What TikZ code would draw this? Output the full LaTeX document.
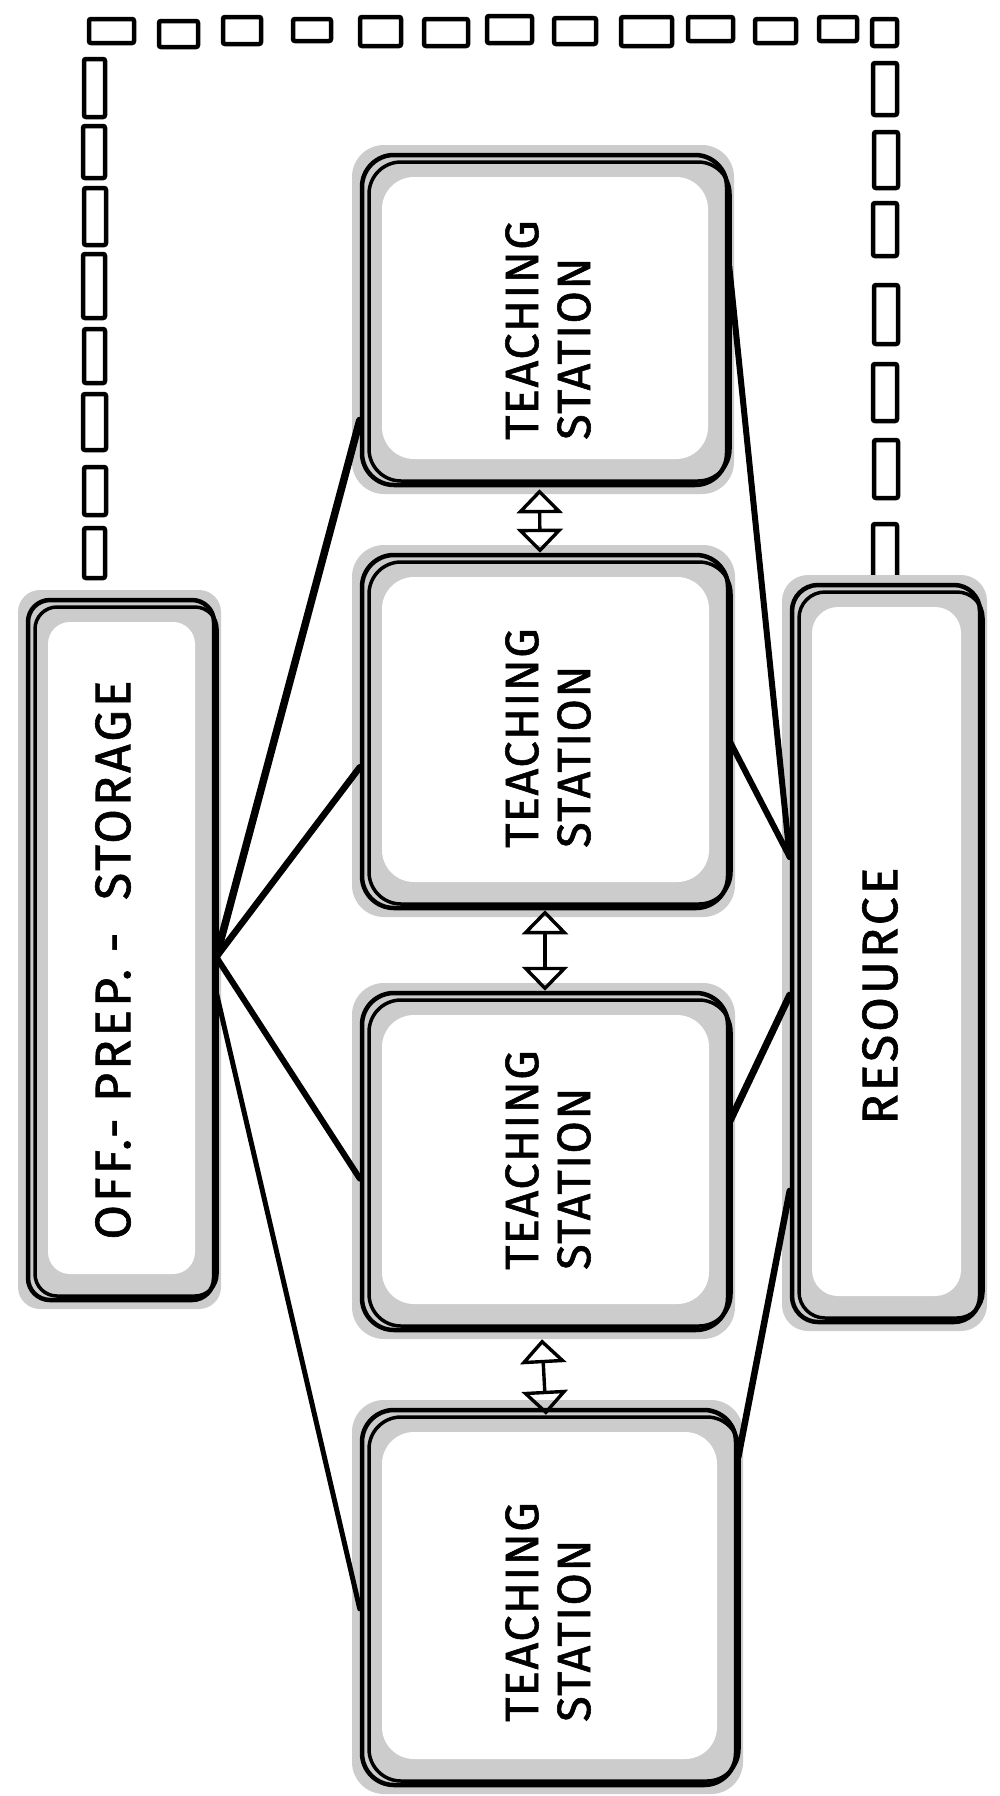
\documentclass[tikz,border=0pt]{standalone}
\usepackage{fontspec}
\setmainfont{Fira Sans}
\newfontfamily\handfont[LetterSpace=3,FakeBold=1.2]{Fira Sans}
\newfontfamily\handwide[LetterSpace=6,FakeBold=1.2]{Fira Sans}
\usetikzlibrary{arrows.meta,calc}
\newcommand{\skbox}[6]{%
  \fill[shade,rounded corners=#6pt] ({#2-10},{#3-10}) rectangle ({#4+7},{#5+9});
  \fill[white,rounded corners=#6pt] ({#2+20},{#3+22}) rectangle ({#4-19},{#5-26});
  \draw[boxlinetwo,rounded corners=#6pt] ({#2+7},{#3+7}) rectangle ({#4+3},{#5-4});
  \node[boxline,rounded corners=#6pt,minimum width={#4-#2},minimum height={#5-#3}] (#1) at ({(#2+#4)/2},{(#3+#5)/2}) {};
}
\begin{document}
\begin{tikzpicture}[x=1pt,y=-1pt,
  sq/.style={draw=black,line width=4.5pt,rounded corners=2pt,fill=white},
  boxline/.style={draw=black,line width=4.5pt,inner sep=0pt},
  boxlinetwo/.style={draw=black,line width=3.5pt},
  shade/.style={fill=black!20},
  link/.style={draw=black,line width=#1,line cap=round},
  link/.default=6pt,
  dbl/.style={line width=3.4pt,{Triangle[open,length=24pt,width=46pt]}-{Triangle[open,length=24pt,width=46pt]}},
  tslbl/.style={font=\handfont\fontsize{47}{52}\selectfont,align=left,rotate=90,inner sep=0pt},
  biglbl/.style={font=\handwide\fontsize{50}{52}\selectfont,rotate=90,inner sep=0pt},
]
\useasboundingbox[fill=white] (0,0) rectangle (999,1796);

% dashed enclosure made of small boxes
\foreach \a/\b/\c/\d in {89/19/134/43,159/21/198/47,223/17/261/44,293/19/331/41,360/17/401/46,424/19/468/46,487/16/532/43,554/18/596/44,621/17/672/46,688/17/733/41,755/19/796/43,819/17/857/41,872/19/897/46}
  \draw[sq] (\a,\b) rectangle (\c,\d);
\foreach \a/\b/\c/\d in {84/59/105/117,83/126/105/178,84/188/106/245,83/254/105/318,84/329/105/383,83/394/106/450,84/467/106/515,84/528/105/578}
  \draw[sq] (\a,\b) rectangle (\c,\d);
\foreach \a/\b/\c/\d in {873/63/897/115,874/132/898/188,873/203/897/256,874/285/898/344,873/364/897/421,874/440/898/498,873/524/897/578}
  \draw[sq] (\a,\b) rectangle (\c,\d);

% boxes
\skbox{st}{28}{600}{214}{1300}{22}
\skbox{res}{792}{585}{980}{1322}{26}
\skbox{ts1}{362}{155}{727}{485}{32}
\skbox{ts2}{362}{555}{728}{908}{32}
\skbox{ts3}{362}{993}{728}{1330}{32}
\skbox{ts4}{362}{1410}{736}{1785}{32}

% labels
\node[biglbl] (stl) at (113,960) {OFF.- PREP.\ -\ \ STORAGE};
\node[biglbl] (resl) at (880,996) {RESOURCE};
\node[tslbl] (t1) at (548,330) {TEACHING\\STATION};
\node[tslbl] (t2) at (548,738) {TEACHING\\STATION};
\node[tslbl] (t3) at (548,1160) {TEACHING\\STATION};
\node[tslbl] (t4) at (548,1612) {TEACHING\\STATION};

% fan from storage
\coordinate (apex) at ($(st.north east)!0.51!(st.south east)$);
\coordinate (apexlow) at ($(st.north east)!0.56!(st.south east)$);
\draw[link=7.5pt] (apex) -- ($(ts1.north west)!0.80!(ts1.south west)$);
\draw[link=6.5pt] (apex) -- ($(ts2.north west)!0.60!(ts2.south west)$);
\draw[link=6pt] (apex) -- ($(ts3.north west)!0.55!(ts3.south west)$);
\draw[link=5pt] (apexlow) -- ($(ts4.north west)!0.53!(ts4.south west)$);

% links to resource
\draw[link=6pt] ($(ts1.north east)!0.34!(ts1.south east)$) -- ($(res.north west)!0.37!(res.south west)$);
\draw[link=6pt] ($(ts2.north east)!0.53!(ts2.south east)$) -- ($(res.north west)!0.37!(res.south west)$);
\draw[link=7pt] ($(ts3.north east)!0.38!(ts3.south east)$) -- ($(res.north west)!0.556!(res.south west)$);
\draw[link=6.5pt] ($(ts4.north east)!0.13!(ts4.south east)$) -- ($(res.north west)!0.82!(res.south west)$);

% double arrows between stations
\draw[dbl] ($(ts1.south)+(-5,2)$) -- ($(ts2.north)+(-5,0)$);
\draw[dbl] ($(ts2.south)+(0,0)$) -- ($(ts3.north)+(0,0)$);
\draw[dbl] ($(ts3.south)+(-3,7)$) -- ($(ts4.north)+(-3,7)$);
\end{tikzpicture}
\end{document}
